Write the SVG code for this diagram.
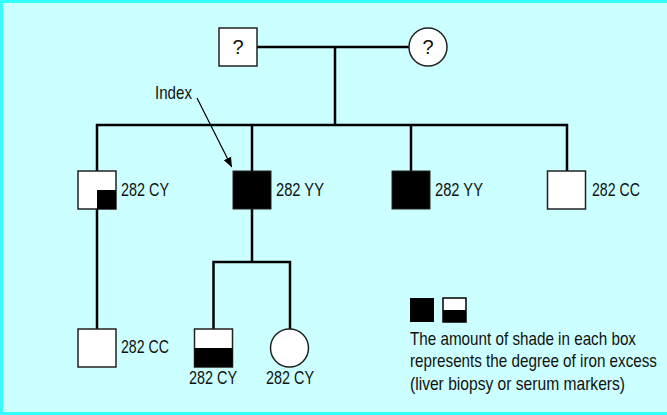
<svg xmlns="http://www.w3.org/2000/svg" width="667" height="415" viewBox="0 0 667 415">
<style>
.bg{fill:#ccffff;stroke:#33ffff;stroke-width:3}
.box{fill:#ffffff;stroke:#222;stroke-width:1.5}
.sh{fill:#000}
.ln{stroke:#000;stroke-width:2.5;fill:none}
.t{font-family:"Liberation Sans",Arial,sans-serif;font-size:18px;fill:#111}
.q{font-size:20px}
</style>
<defs>
<marker id="ah" viewBox="0 0 10 10" refX="9" refY="5" markerWidth="10" markerHeight="10" markerUnits="userSpaceOnUse" orient="auto">
<path d="M0,1 L10,5 L0,9 z" fill="#000"/>
</marker>
</defs>
<rect class="bg" x="1.5" y="1.5" width="667" height="412"/>
<g id="connectors">
<line class="ln" x1="257" y1="47" x2="409" y2="47"/>
<line class="ln" x1="335" y1="47" x2="335" y2="125"/>
<polyline class="ln" points="97,171 97,125 567,125 567,171"/>
<line class="ln" x1="252" y1="125" x2="252" y2="171"/>
<line class="ln" x1="411" y1="125" x2="411" y2="171"/>
<line class="ln" x1="97" y1="209" x2="97" y2="329"/>
<line class="ln" x1="252" y1="209" x2="252" y2="262"/>
<polyline class="ln" points="213.5,329 213.5,262 290,262 290,329"/>
<line x1="197" y1="98" x2="231.5" y2="166.5" stroke="#000" stroke-width="1.2" marker-end="url(#ah)"/>
</g>
<g id="father"><rect class="box" x="219" y="28" width="38" height="38"/><text class="t q" x="238" y="54" text-anchor="middle">?</text></g>
<g id="mother"><circle class="box" cx="428" cy="47" r="19"/><text class="t q" x="428" y="54" text-anchor="middle">?</text></g>
<g id="index-label"><text class="t" transform="translate(155,99) scale(0.82,1)" textLength="45.1" lengthAdjust="spacingAndGlyphs">Index</text></g>
<g id="child1"><rect class="box" x="78" y="171" width="38" height="38"/><rect class="sh" x="97" y="190" width="19" height="19"/><text class="t" transform="translate(121,196) scale(0.82,1)" textLength="58.5" lengthAdjust="spacingAndGlyphs">282 CY</text></g>
<g id="child2"><rect class="sh" x="233" y="171" width="38" height="38" stroke="#222" stroke-width="1"/><text class="t" transform="translate(276,196) scale(0.82,1)" textLength="58.5" lengthAdjust="spacingAndGlyphs">282 YY</text></g>
<g id="child3"><rect class="sh" x="392" y="171" width="38" height="38" stroke="#222" stroke-width="1"/><text class="t" transform="translate(435,196) scale(0.82,1)" textLength="58.5" lengthAdjust="spacingAndGlyphs">282 YY</text></g>
<g id="child4"><rect class="box" x="547.5" y="171" width="38" height="38"/><text class="t" transform="translate(592,196) scale(0.82,1)" textLength="58.5" lengthAdjust="spacingAndGlyphs">282 CC</text></g>
<g id="grandchild1"><rect class="box" x="78" y="329" width="38" height="38"/><text class="t" transform="translate(121,353) scale(0.82,1)" textLength="58.5" lengthAdjust="spacingAndGlyphs">282 CC</text></g>
<g id="grandchild2"><rect class="box" x="194.5" y="329" width="38" height="38"/><rect class="sh" x="194.5" y="348" width="38" height="19"/><text class="t" transform="translate(189,384) scale(0.82,1)" textLength="58.5" lengthAdjust="spacingAndGlyphs">282 CY</text></g>
<g id="grandchild3"><circle class="box" cx="289.5" cy="348" r="19"/><text class="t" transform="translate(266,384) scale(0.82,1)" textLength="58.5" lengthAdjust="spacingAndGlyphs">282 CY</text></g>
<g id="legend">
<rect class="sh" x="410" y="298" width="24" height="24"/>
<rect x="443" y="298" width="23" height="24" fill="#fff" stroke="#000" stroke-width="1.5"/>
<rect class="sh" x="443" y="310" width="23" height="12"/>
<text class="t" transform="translate(410,345) scale(0.82,1)" textLength="275.6" lengthAdjust="spacingAndGlyphs">The amount of shade in each box</text>
<text class="t" transform="translate(410,367) scale(0.82,1)" textLength="301.2" lengthAdjust="spacingAndGlyphs">represents the degree of iron excess</text>
<text class="t" transform="translate(410,390) scale(0.82,1)" textLength="262.2" lengthAdjust="spacingAndGlyphs">(liver biopsy or serum markers)</text>
</g>
</svg>
